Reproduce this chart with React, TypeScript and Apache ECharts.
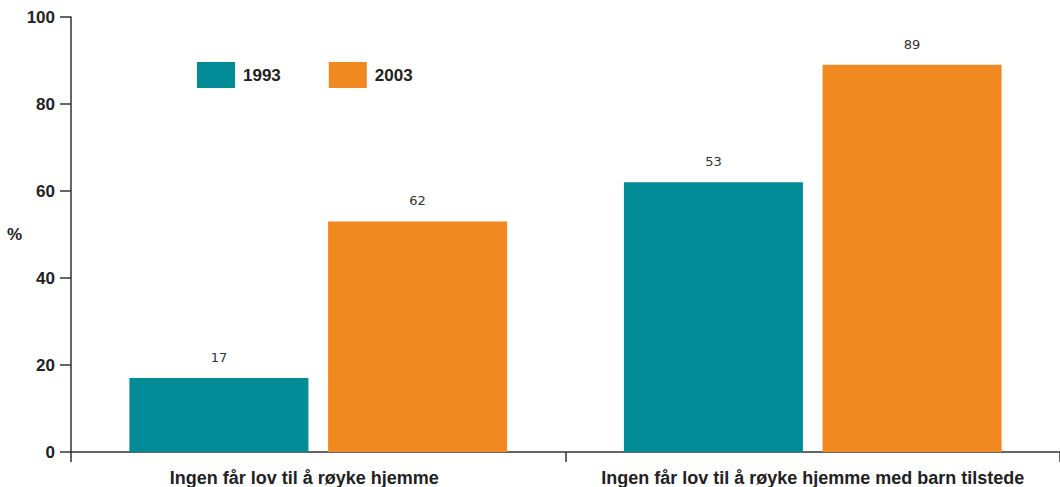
import React, { useEffect, useRef } from "react";
import * as echarts from "echarts";

const categories = [
  "Ingen får lov til å røyke hjemme",
  "Ingen får lov til å røyke hjemme med barn tilstede",
];
const values1993 = [17, 62];
const values2003 = [53, 89];
const labels1993 = ["17", "53"];
const labels2003 = ["62", "89"];
const yTicks = [0, 20, 40, 60, 80, 100];

const TEAL = "#008b96";
const ORANGE = "#f0891f";
const AXIS = "#333333";

const xLabelFont = {
  fontFamily: "Liberation Sans, Arial, sans-serif",
  fontWeight: "bold" as const,
  fontSize: 18,
  color: "#222",
};

export default function App() {
  const ref = useRef<HTMLDivElement>(null);
  useEffect(() => {
    if (!ref.current) return;
    const chart = echarts.init(ref.current, undefined, { renderer: "svg" });
    chart.setOption({
      animation: false,
      backgroundColor: "#ffffff",
      grid: { left: 71, right: -4, top: 17, bottom: 35, containLabel: false },
      legend: {
        left: 192,
        top: 57,
        itemWidth: 38,
        itemHeight: 26,
        itemGap: 48,
        icon: "rect",
        textStyle: {
          fontFamily: "Liberation Sans, Arial, sans-serif",
          fontWeight: "bold",
          fontSize: 17,
          color: "#222",
          padding: [0, 0, 0, 3],
        },
        data: ["1993", "2003"],
      },
      graphic: [
        {
          type: "text",
          left: 7,
          top: 226,
          style: {
            text: "%",
            fontFamily: "Liberation Sans, Arial, sans-serif",
            fontWeight: "bold",
            fontSize: 17,
            fill: "#222",
          },
        },
      ],
      xAxis: {
        type: "category",
        data: categories,
        boundaryGap: true,
        axisLine: { lineStyle: { color: AXIS, width: 1.5 } },
        axisTick: { show: true, length: 10, lineStyle: { color: AXIS, width: 1.5 } },
        axisLabel: {
          interval: 0,
          margin: 17,
          ...xLabelFont,
          formatter: (v: string, i: number) => (i === 0 ? "{a|" + v + "}" : "{b|" + v + "}"),
          rich: {
            a: { ...xLabelFont, padding: [0, 28, 0, 0] },
            b: { ...xLabelFont },
          },
        },
      },
      yAxis: {
        type: "value",
        min: 0,
        max: 100,
        interval: 20,
        splitLine: { show: false },
        axisLine: { show: true, lineStyle: { color: AXIS, width: 1.5 } },
        axisTick: { show: true, length: 11, lineStyle: { color: AXIS, width: 1.5 } },
        axisLabel: {
          margin: 16,
          fontFamily: "Liberation Sans, Arial, sans-serif",
          fontWeight: "bold",
          fontSize: 17,
          color: "#222",
          formatter: (v: number) => (yTicks.includes(v) ? String(v) : ""),
        },
      },
      series: [
        {
          name: "1993",
          type: "bar",
          data: values1993,
          barWidth: 179,
          barGap: "11%",
          itemStyle: { color: TEAL },
          label: {
            show: true,
            position: "top",
            distance: 14,
            fontFamily: "DejaVu Sans, sans-serif",
            fontSize: 13,
            color: "#333",
            formatter: (p: any) => labels1993[p.dataIndex],
          },
        },
        {
          name: "2003",
          type: "bar",
          data: values2003,
          barWidth: 179,
          barGap: "11%",
          itemStyle: { color: ORANGE },
          label: {
            show: true,
            position: "top",
            distance: 14,
            fontFamily: "DejaVu Sans, sans-serif",
            fontSize: 13,
            color: "#333",
            formatter: (p: any) => labels2003[p.dataIndex],
          },
        },
      ],
    });
    return () => chart.dispose();
  }, []);
  return (
    <div
      ref={ref}
      style={{ position: "fixed", left: 0, top: 0, width: 1060, height: 487 }}
    />
  );
}
